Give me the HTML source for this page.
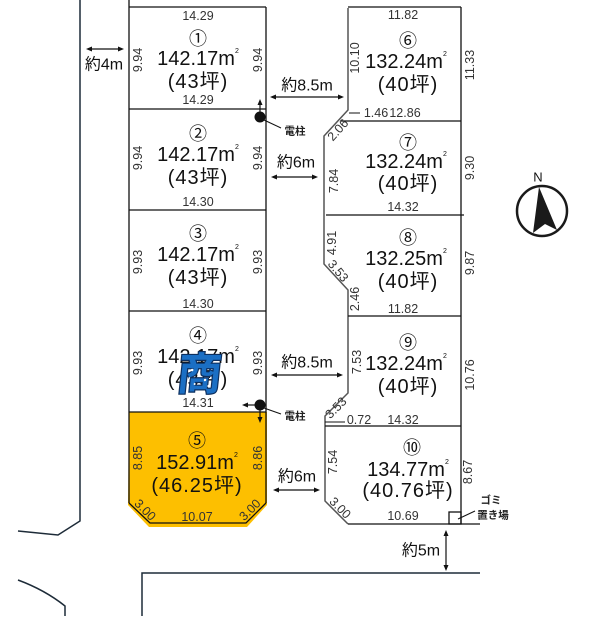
<!DOCTYPE html>
<html><head><meta charset="utf-8"><style>
html,body{margin:0;padding:0;background:#fff;}
svg{display:block;}
text{font-family:"Liberation Sans","Noto Sans CJK JP",sans-serif;}
.m{font-size:12.5px;fill:#333;}
.c{font-family:"Noto Sans CJK JP","Liberation Sans",sans-serif;font-size:18px;fill:#111;}
.a{font-size:20px;fill:#111;}
.t{font-size:20px;fill:#111;letter-spacing:1px;}
.r{font-size:16px;fill:#111;}
.p{font-family:"Noto Sans CJK JP",sans-serif;font-size:10.5px;font-weight:bold;fill:#222;}
</style></head><body>
<svg width="615" height="621" viewBox="0 0 615 621" xmlns="http://www.w3.org/2000/svg">
<g fill="none" stroke="#1d2b38" stroke-width="1.5">
  <polyline points="80,0 80,521 58,535 18,531"/>
  <path d="M18,580 Q45,590 65,606 L65,616"/>
  <polyline points="142,616 142,573 480,573"/>
</g>
<!-- yellow lot 5 -->
<polygon points="129,412 267,412 267,505 247,527 149,527 128,505" fill="#fdbf00"/>
<g fill="none" stroke="#111" stroke-width="1.3">
  <line x1="129" y1="0" x2="129" y2="503"/>
  <line x1="266" y1="7" x2="266" y2="503"/>
  <line x1="129" y1="7" x2="266" y2="7"/>
  <line x1="129" y1="109" x2="266" y2="109"/>
  <line x1="129" y1="210" x2="266" y2="210"/>
  <line x1="129" y1="311" x2="266" y2="311"/>
  <line x1="129" y1="412" x2="266" y2="412"/>
  <polyline points="129,503 150,523 246,523 266,503"/>
</g>
<!-- right block -->
<g fill="none" stroke="#555" stroke-width="1.5">
  <polyline points="348,8 348,110 324,136 324,264 348,290 348,393 325,416 325,501 348,524"/>
</g>
<g fill="none" stroke="#111" stroke-width="1.3">
  <line x1="348" y1="7" x2="461" y2="7"/>
  <line x1="461" y1="7" x2="461" y2="524"/>
  <line x1="348" y1="524" x2="480" y2="524"/>
  <line x1="341" y1="121" x2="461" y2="121"/>
  <line x1="349" y1="113" x2="360" y2="113" stroke-width="1"/>
  <line x1="326" y1="215" x2="464" y2="215"/>
  <line x1="348" y1="316" x2="461" y2="316"/>
  <line x1="325" y1="426" x2="461" y2="426"/>
  <line x1="325" y1="422" x2="345" y2="422" stroke-width="1"/>
  <rect x="449" y="512" width="12" height="12"/>
  <line x1="458" y1="519" x2="475" y2="511" stroke-width="1"/>
</g>
<!-- arrows -->
<g stroke="#111" stroke-width="1.2" fill="#111">
  <line x1="88" y1="49" x2="122" y2="49"/><polygon points="86,49 92,46.5 92,51.5" stroke="none"/><polygon points="124,49 118,46.5 118,51.5" stroke="none"/>
  <line x1="272" y1="97" x2="342" y2="97"/><polygon points="270,97 276,94.5 276,99.5" stroke="none"/><polygon points="344,97 338,94.5 338,99.5" stroke="none"/>
  <line x1="273" y1="177" x2="316" y2="177"/><polygon points="271,177 277,174.5 277,179.5" stroke="none"/><polygon points="318,177 312,174.5 312,179.5" stroke="none"/>
  <line x1="273" y1="375" x2="341" y2="375"/><polygon points="271,375 277,372.5 277,377.5" stroke="none"/><polygon points="343,375 337,372.5 337,377.5" stroke="none"/>
  <line x1="275" y1="490" x2="318" y2="490"/><polygon points="273,490 279,487.5 279,492.5" stroke="none"/><polygon points="320,490 314,487.5 314,492.5" stroke="none"/>
  <line x1="446" y1="532" x2="446" y2="569"/><polygon points="446,530 443.5,536 448.5,536" stroke="none"/><polygon points="446,571 443.5,565 448.5,565" stroke="none"/>
  <!-- poles -->
  <circle cx="260" cy="117" r="5.5" stroke="none"/>
  <line x1="260" y1="112" x2="260" y2="103"/><polygon points="260,99 257.5,105 262.5,105" stroke="none"/>
  <line x1="264" y1="120" x2="281" y2="128" stroke-width="1"/>
  <circle cx="260" cy="405" r="5.5" stroke="none"/>
  <line x1="255" y1="405" x2="246" y2="405"/><polygon points="242,405 248,402.5 248,407.5" stroke="none"/>
  <line x1="260" y1="410" x2="260" y2="419"/><polygon points="260,423 257.5,417 262.5,417" stroke="none"/>
  <line x1="264" y1="408" x2="281" y2="414" stroke-width="1"/>
</g>
<g dominant-baseline="central" text-anchor="middle">
  <text class="r" x="104" y="65">約4m</text>
  <text class="r" x="307" y="86">約8.5m</text>
  <text class="r" x="296" y="163">約6m</text>
  <text class="r" x="307" y="363">約8.5m</text>
  <text class="r" x="297" y="477">約6m</text>
  <text class="r" x="421" y="551">約5m</text>
  <text class="p" x="295" y="131">電柱</text>
  <text class="p" x="295" y="416">電柱</text>
  <text class="p" x="491" y="500" font-weight="normal">ゴミ</text>
  <text class="p" x="493" y="515" font-weight="normal">置き場</text>

  <!-- lot 1 -->
  <text class="m" x="198" y="16">14.29</text>
  <text class="c" x="198" y="38">①</text>
  <text class="a" x="198" y="59">142.17m<tspan font-size="7" dy="-8">2</tspan></text>
  <text class="t" x="198" y="82">(43坪)</text>
  <text class="m" x="198" y="100">14.29</text>
  <text class="m" x="138" y="60" transform="rotate(-90 138 60)">9.94</text>
  <text class="m" x="258" y="60" transform="rotate(-90 258 60)">9.94</text>
  <!-- lot 2 -->
  <text class="c" x="198" y="133">②</text>
  <text class="a" x="198" y="155">142.17m<tspan font-size="7" dy="-8">2</tspan></text>
  <text class="t" x="198" y="178">(43坪)</text>
  <text class="m" x="198" y="202">14.30</text>
  <text class="m" x="138" y="158" transform="rotate(-90 138 158)">9.94</text>
  <text class="m" x="258" y="158" transform="rotate(-90 258 158)">9.94</text>
  <!-- lot 3 -->
  <text class="c" x="198" y="233">③</text>
  <text class="a" x="198" y="255">142.17m<tspan font-size="7" dy="-8">2</tspan></text>
  <text class="t" x="198" y="278">(43坪)</text>
  <text class="m" x="198" y="304">14.30</text>
  <text class="m" x="138" y="262" transform="rotate(-90 138 262)">9.93</text>
  <text class="m" x="258" y="262" transform="rotate(-90 258 262)">9.93</text>
  <!-- lot 4 -->
  <text class="c" x="198" y="335">④</text>
  <text class="a" x="198" y="357">142.17m<tspan font-size="7" dy="-8">2</tspan></text>
  <text class="t" x="198" y="380">(43坪)</text>
  <text class="m" x="198" y="403">14.31</text>
  <text class="m" x="138" y="363" transform="rotate(-90 138 363)">9.93</text>
  <text class="m" x="258" y="363" transform="rotate(-90 258 363)">9.93</text>
  <!-- lot 5 -->
  <text class="c" x="197" y="440">⑤</text>
  <text class="a" x="197" y="463" font-size="21">152.91m<tspan font-size="7" dy="-8">2</tspan></text>
  <text class="t" x="197" y="486" font-size="21">(46.25坪)</text>
  <text class="m" x="197" y="517">10.07</text>
  <text class="m" x="138" y="458" transform="rotate(-90 138 458)">8.85</text>
  <text class="m" x="258" y="458" transform="rotate(-90 258 458)">8.86</text>
  <text class="m" x="145" y="510" transform="rotate(45 145 510)">3.00</text>
  <text class="m" x="250" y="510" transform="rotate(-45 250 510)">3.00</text>
  <!-- lot 6 -->
  <text class="m" x="403" y="15">11.82</text>
  <text class="c" x="408" y="40">⑥</text>
  <text class="a" x="406" y="62">132.24m<tspan font-size="7" dy="-8">2</tspan></text>
  <text class="t" x="408" y="85">(40坪)</text>
  <text class="m" x="355" y="58" transform="rotate(-90 355 58)">10.10</text>
  <text class="m" x="470" y="65" transform="rotate(-90 470 65)">11.33</text>
  <text class="m" x="376" y="113">1.46</text>
  <text class="m" x="405" y="113">12.86</text>
  <!-- lot 7 -->
  <text class="c" x="408" y="142">⑦</text>
  <text class="a" x="406" y="162">132.24m<tspan font-size="7" dy="-8">2</tspan></text>
  <text class="t" x="408" y="184">(40坪)</text>
  <text class="m" x="403" y="207">14.32</text>
  <text class="m" x="338" y="130" transform="rotate(-48 338 130)">2.06</text>
  <text class="m" x="334" y="181" transform="rotate(-90 334 181)">7.84</text>
  <text class="m" x="470" y="168" transform="rotate(-90 470 168)">9.30</text>
  <!-- lot 8 -->
  <text class="c" x="408" y="237">⑧</text>
  <text class="a" x="406" y="259">132.25m<tspan font-size="7" dy="-8">2</tspan></text>
  <text class="t" x="408" y="282">(40坪)</text>
  <text class="m" x="403" y="309">11.82</text>
  <text class="m" x="332" y="243" transform="rotate(-90 332 243)">4.91</text>
  <text class="m" x="338" y="271" transform="rotate(50 338 271)">3.53</text>
  <text class="m" x="355" y="299" transform="rotate(-90 355 299)">2.46</text>
  <text class="m" x="470" y="263" transform="rotate(-90 470 263)">9.87</text>
  <!-- lot 9 -->
  <text class="c" x="408" y="342">⑨</text>
  <text class="a" x="406" y="364">132.24m<tspan font-size="7" dy="-8">2</tspan></text>
  <text class="t" x="408" y="387">(40坪)</text>
  <text class="m" x="357" y="362" transform="rotate(-90 357 362)">7.53</text>
  <text class="m" x="470" y="375" transform="rotate(-90 470 375)">10.76</text>
  <!-- lot 10 -->
  <text class="m" x="336" y="408" transform="rotate(-45 336 408)">3.53</text>
  <text class="m" x="359" y="420">0.72</text>
  <text class="m" x="403" y="420">14.32</text>
  <text class="c" x="412" y="447">⑩</text>
  <text class="a" x="408" y="470">134.77m<tspan font-size="7" dy="-8">2</tspan></text>
  <text class="t" x="408" y="491">(40.76坪)</text>
  <text class="m" x="333" y="462" transform="rotate(-90 333 462)">7.54</text>
  <text class="m" x="340" y="508" transform="rotate(45 340 508)">3.00</text>
  <text class="m" x="403" y="516">10.69</text>
  <text class="m" x="468" y="472" transform="rotate(-90 468 472)">8.67</text>
</g>
<!-- stamp -->
<g transform="translate(198 390) skewX(-6)">
  <text x="0" y="0" text-anchor="middle" font-family="Noto Sans CJK JP,sans-serif" font-weight="900" font-size="45" fill="#1b6fc4" stroke="#0d2f5e" stroke-width="1.2">商</text>
  <g fill="#fff"><circle cx="-8" cy="-20" r="1.3"/><circle cx="6" cy="-10" r="1.2"/><circle cx="-4" cy="-6" r="1"/><circle cx="10" cy="-4" r="1.1"/><circle cx="-10" cy="-12" r="0.9"/></g>
</g>
<!-- compass -->
<circle cx="542" cy="211" r="25" fill="none" stroke="#1a1a1a" stroke-width="2.5"/>
<text x="538" y="177" text-anchor="middle" dominant-baseline="central" font-size="13" fill="#111" font-family="Liberation Sans,sans-serif">N</text>
<polygon points="539,187 533,233 545,224 557,230" fill="#1a1a1a"/>
</svg>
</body></html>
